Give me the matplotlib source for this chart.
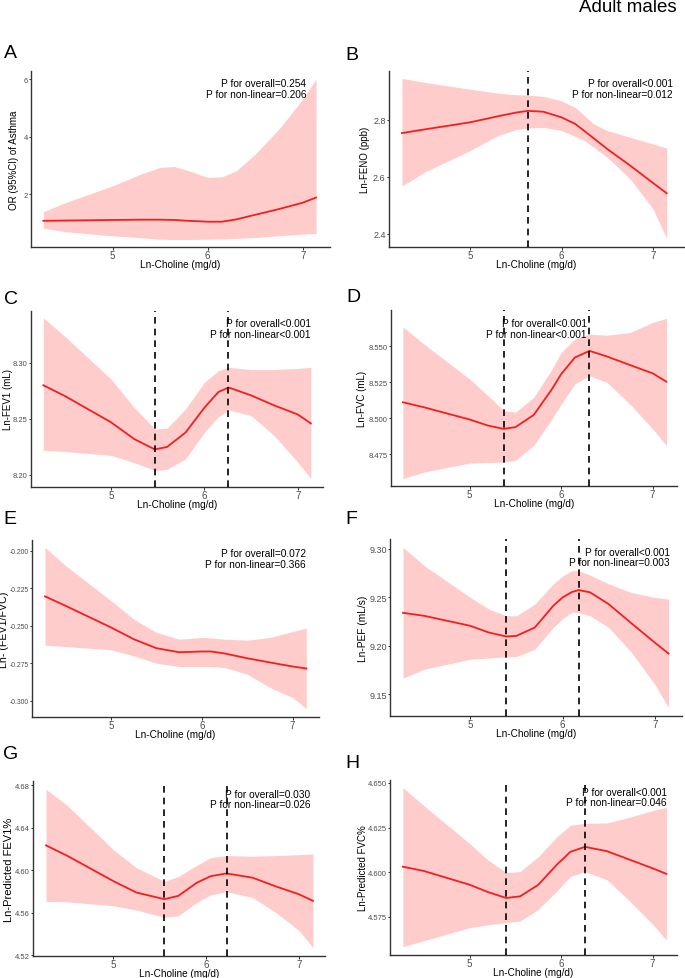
import matplotlib
matplotlib.use("Agg")
import matplotlib.pyplot as plt
import numpy as np

plt.rcParams['font.family'] = ['Liberation Sans', 'DejaVu Sans']

# ---------------- data ----------------
A_x = [4.27, 4.5, 5.0, 5.3, 5.5, 5.65, 5.8, 6.0, 6.15, 6.3, 6.5, 6.75, 7.0, 7.14]
A_fit = [1.07, 1.08, 1.10, 1.11, 1.11, 1.10, 1.07, 1.04, 1.04, 1.12, 1.28, 1.48, 1.70, 1.88]
A_up = [1.39, 1.70, 2.29, 2.70, 2.93, 2.96, 2.81, 2.58, 2.60, 2.81, 3.39, 4.26, 5.30, 6.00]
A_lo = [0.82, 0.69, 0.55, 0.48, 0.43, 0.42, 0.42, 0.43, 0.44, 0.46, 0.49, 0.55, 0.61, 0.63]

B_x = [4.25, 4.5, 5.0, 5.3, 5.5, 5.63, 5.8, 6.0, 6.15, 6.25, 6.35, 6.5, 6.75, 7.0, 7.15]
B_fit = [2.753, 2.766, 2.791, 2.812, 2.825, 2.831, 2.828, 2.808, 2.785, 2.760, 2.735, 2.697, 2.639, 2.578, 2.542]
B_up = [2.945, 2.931, 2.907, 2.893, 2.888, 2.886, 2.882, 2.866, 2.843, 2.814, 2.785, 2.762, 2.738, 2.715, 2.700]
B_lo = [2.567, 2.616, 2.692, 2.744, 2.765, 2.771, 2.773, 2.762, 2.741, 2.727, 2.703, 2.668, 2.592, 2.487, 2.383]

C_x = [4.275, 4.5, 5.0, 5.25, 5.47, 5.6, 5.8, 6.0, 6.15, 6.26, 6.5, 6.75, 7.0, 7.14]
C_fit = [8.280, 8.2707, 8.247, 8.232, 8.2228, 8.225, 8.238, 8.260, 8.274, 8.278, 8.271, 8.262, 8.254, 8.246]
C_up = [8.340, 8.324, 8.2855, 8.260, 8.241, 8.2417, 8.259, 8.2825, 8.293, 8.296, 8.294, 8.294, 8.295, 8.296]
C_lo = [8.222, 8.221, 8.2175, 8.211, 8.204, 8.205, 8.2145, 8.238, 8.252, 8.258, 8.253, 8.235, 8.2115, 8.197]

D_x = [4.27, 4.5, 5.0, 5.2, 5.37, 5.5, 5.7, 5.9, 6.0, 6.15, 6.31, 6.5, 6.75, 7.0, 7.15]
D_fit = [8.5111, 8.5076, 8.4991, 8.4949, 8.4926, 8.4938, 8.5023, 8.5203, 8.5307, 8.5422, 8.5468, 8.5429, 8.5370, 8.5312, 8.5254]
D_up = [8.5635, 8.5515, 8.5272, 8.5157, 8.5053, 8.5042, 8.5145, 8.5342, 8.5457, 8.5550, 8.5584, 8.5577, 8.5595, 8.5665, 8.5695]
D_lo = [8.4580, 8.4626, 8.4688, 8.4692, 8.4695, 8.4707, 8.4811, 8.4995, 8.5099, 8.5238, 8.5295, 8.5249, 8.5099, 8.4926, 8.4811]

E_x = [4.273, 4.5, 5.0, 5.25, 5.5, 5.75, 6.0, 6.1, 6.25, 6.5, 6.75, 7.0, 7.15]
E_fit = [-0.2304, -0.2367, -0.2511, -0.2589, -0.2649, -0.2676, -0.2671, -0.2671, -0.2684, -0.2716, -0.2744, -0.2771, -0.2784]
E_up = [-0.1978, -0.2100, -0.2333, -0.2456, -0.2544, -0.2589, -0.2578, -0.2580, -0.2589, -0.2596, -0.2578, -0.2538, -0.2516]
E_lo = [-0.2629, -0.2638, -0.2660, -0.2700, -0.2749, -0.2771, -0.2771, -0.2771, -0.2778, -0.2822, -0.2911, -0.2978, -0.3051]

F_x = [4.27, 4.5, 5.0, 5.2, 5.39, 5.5, 5.7, 5.9, 6.0, 6.1, 6.175, 6.3, 6.5, 6.75, 7.0, 7.15]
F_fit = [9.2341, 9.2310, 9.2207, 9.2138, 9.2097, 9.2103, 9.2190, 9.2414, 9.2500, 9.2555, 9.2576, 9.2552, 9.2431, 9.2231, 9.2034, 9.1921]
F_up = [9.3017, 9.2828, 9.2500, 9.2380, 9.2310, 9.2310, 9.2431, 9.2638, 9.2720, 9.2776, 9.2776, 9.2730, 9.2640, 9.2550, 9.2500, 9.2483]
F_lo = [9.1666, 9.1759, 9.1862, 9.1875, 9.1886, 9.1890, 9.1966, 9.2190, 9.2280, 9.2345, 9.2345, 9.2310, 9.2190, 9.1931, 9.1603, 9.1362]

G_x = [4.275, 4.5, 5.0, 5.25, 5.55, 5.7, 5.9, 6.05, 6.22, 6.5, 6.75, 7.0, 7.15]
G_fit = [4.6236, 4.6140, 4.5900, 4.5792, 4.5730, 4.5761, 4.5885, 4.5947, 4.5972, 4.5932, 4.5850, 4.5776, 4.5714]
G_up = [4.6764, 4.6615, 4.6196, 4.6025, 4.5897, 4.5944, 4.6049, 4.6121, 4.6140, 4.6134, 4.6140, 4.6149, 4.6155]
G_lo = [4.5708, 4.5705, 4.5668, 4.5627, 4.5559, 4.5574, 4.5699, 4.5770, 4.5801, 4.5745, 4.5605, 4.5435, 4.5273]

H_x = [4.27, 4.5, 5.0, 5.2, 5.4, 5.55, 5.75, 5.95, 6.1, 6.26, 6.5, 6.75, 7.0, 7.15]
H_fit = [4.6031, 4.6007, 4.5930, 4.5889, 4.5856, 4.5865, 4.5930, 4.6041, 4.6114, 4.6142, 4.6118, 4.6070, 4.6022, 4.5991]
H_up = [4.6474, 4.6372, 4.6160, 4.6068, 4.5998, 4.6004, 4.6087, 4.6197, 4.6262, 4.6274, 4.6276, 4.6308, 4.6345, 4.6363]
H_lo = [4.5584, 4.5617, 4.5690, 4.5706, 4.5718, 4.5727, 4.5792, 4.5893, 4.5976, 4.6004, 4.5958, 4.5838, 4.5709, 4.5620]

letters = ['A', 'B', 'C', 'D', 'E', 'F', 'G', 'H']
ylabels = ['OR (95%CI) of Asthma', 'Ln-FENO (ppb)', 'Ln-FEV1 (mL)', 'Ln-FVC (mL)',
           'Ln- (FEV1/FVC)', 'Ln-PEF (mL/s)', 'Ln-Predicted FEV1%', 'Ln-Predicted FVC%']
p_overall = ['P for overall=0.254', 'P for overall<0.001', 'P for overall<0.001', 'P for overall<0.001',
             'P for overall=0.072', 'P for overall<0.001', 'P for overall=0.030', 'P for overall<0.001']
p_nonlin = ['P for non-linear=0.206', 'P for non-linear=0.012', 'P for non-linear<0.001', 'P for non-linear<0.001',
            'P for non-linear=0.366', 'P for non-linear=0.003', 'P for non-linear=0.026', 'P for non-linear=0.046']
vlines = [[], [5.63], [5.47, 6.257], [5.372, 6.308], [], [5.387, 6.175], [5.546, 6.221], [5.40, 6.264]]
yticks = [[2, 4, 6], [2.4, 2.6, 2.8], [8.20, 8.25, 8.30], [8.475, 8.500, 8.525, 8.550],
          [-0.300, -0.275, -0.250, -0.225, -0.200], [9.15, 9.20, 9.25, 9.30],
          [4.52, 4.56, 4.60, 4.64, 4.68], [4.575, 4.600, 4.625, 4.650]]
ytick_fmt = ['%d', '%.1f', '%.2f', '%.3f', '%.3f', '%.2f', '%.2f', '%.3f']
xticks = [5, 6, 7]
xlabel = 'Ln-Choline (mg/d)'
title = 'Adult males'

series = [(A_x, A_fit, A_up, A_lo), (B_x, B_fit, B_up, B_lo), (C_x, C_fit, C_up, C_lo),
          (D_x, D_fit, D_up, D_lo), (E_x, E_fit, E_up, E_lo), (F_x, F_fit, F_up, F_lo),
          (G_x, G_fit, G_up, G_lo), (H_x, H_fit, H_up, H_lo)]

# ---------------- layout (pixel based) ----------------
W, H = 685, 979
rects = [(31, 72, 330, 248), (389, 72, 684, 248), (31, 312, 323, 488), (391, 311, 677, 487),
         (32, 541, 319, 718), (390, 540, 682, 717), (33, 782, 325, 957), (390, 781, 677, 956)]
xlims = [(4.140, 7.287), (4.109, 7.340), (4.143, 7.271), (4.140, 7.266),
         (4.130, 7.290), (4.129, 7.296), (4.135, 7.280), (4.129, 7.266)]
ylims = [(0.16, 6.28), (2.353, 2.971), (8.1893, 8.3462), (8.4529, 8.5752),
         (-0.3107, -0.1929), (9.1276, 9.3103), (4.5195, 4.6842), (4.5537, 4.6516)]
letter_pos = [(4, 53), (345, 55), (4, 300), (346, 298), (3, 520), (345, 520), (3, 755), (345, 763)]
ptext_pos = [(306, 84), (673, 84), (311, 324), (587, 324), (306, 554), (670, 553), (310, 795), (667, 793)]
ylab_x = [14, 365, 8, 362, 4.5, 363, 9, 363]
ytick_sizes = [5.5, 6.5, 5.5, 5.5, 4.9, 6.5, 5.5, 5.5]
ylab_sizes = [7, 7, 7, 7, 7.7, 7.3, 8, 7]

fig = plt.figure(figsize=(W / 100, H / 100), dpi=100)

fill_col = '#FFCCCC'
line_col = '#F51E1E'
axis_col = '#333333'

for i in range(8):
    l, t, r, b = rects[i]
    wpx, hpx = r - l, b - t
    ax = fig.add_axes([l / W, 1 - b / H, wpx / W, hpx / H])
    x, fit, up, lo = series[i]
    ax.fill_between(x, lo, up, color=fill_col, lw=0, zorder=1)
    ax.plot(x, fit, color=line_col, lw=1.3, zorder=3)
    for v in vlines[i]:
        ax.axvline(v, color='black', lw=1.2, ls=(0, (4, 3)), zorder=4)
    ax.set_xlim(*xlims[i])
    ax.set_ylim(*ylims[i])
    ax.set_xticks(xticks)
    ax.set_xticklabels([str(v) for v in xticks])
    ax.set_yticks(yticks[i])
    ax.set_yticklabels([ytick_fmt[i] % v for v in yticks[i]])
    for s in ['top', 'right']:
        ax.spines[s].set_visible(False)
    for s in ['left', 'bottom']:
        ax.spines[s].set_color(axis_col)
        ax.spines[s].set_linewidth(1.0)
    ax.tick_params(axis='x', colors=axis_col, labelcolor='#4D4D4D', labelsize=7,
                   length=1.8, width=0.7, pad=0.3)
    ax.tick_params(axis='y', colors=axis_col, labelcolor='#4D4D4D', labelsize=ytick_sizes[i],
                   length=1.8, width=0.7, pad=0.6)
    ax.set_xlabel(xlabel, fontsize=7.2, color='black')
    ax.xaxis.label.set_va('center')
    ax.xaxis.set_label_coords(0.5, -17.0 / hpx)
    ax.set_ylabel(ylabels[i], fontsize=ylab_sizes[i], color='black')
    ax.yaxis.label.set_va('center')
    ax.yaxis.set_label_coords((ylab_x[i] - l) / wpx, 0.5)

    px, py = ptext_pos[i]
    fig.text(px / W, 1 - py / H, p_overall[i], ha='right', va='center', fontsize=7.3)
    fig.text(px / W, 1 - (py + 10.5) / H, p_nonlin[i], ha='right', va='center', fontsize=7.3)

    lx, ly = letter_pos[i]
    fig.text(lx / W, 1 - ly / H, letters[i], ha='left', va='center', fontsize=14)

fig.text(677 / W, 1 - 8 / H, title, ha='right', va='center', fontsize=13.5)

fig.savefig('out.png', dpi=100)
